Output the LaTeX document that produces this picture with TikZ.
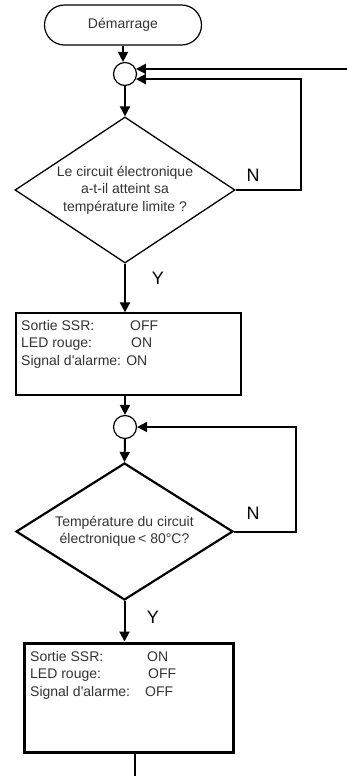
\documentclass[tikz,border=0pt]{standalone}
\usepackage{fontspec}
\setmainfont{Liberation Sans}
\usetikzlibrary{arrows.meta,shapes.geometric}
\tikzset{
  txt/.style={font=\fontsize{14pt}{17.5pt}\selectfont, text=black!80},
  startbox/.style={draw, line width=1.2pt, rounded corners=20pt,
    minimum width=157pt, minimum height=40pt, txt},
  junction/.style={draw, circle, line width=1.2pt, minimum size=23pt, inner sep=0pt},
  test/.style={draw, diamond, inner sep=0pt, align=center, txt},
  actbox/.style={draw, rectangle, inner sep=0pt},
  flow/.style={line width=2pt, -{Triangle[length=10pt,width=10pt]}},
  answer/.style={font=\fontsize{18pt}{18pt}\selectfont}
}
\begin{document}
\begin{tikzpicture}[x=1pt, y=-1pt]
  \useasboundingbox (0,0) rectangle (347,776);
  % start and first loop
  \node[startbox] (start) at (123,25) {Démarrage};
  \node[junction] (c1) at (125,74) {};
  \node[test, line width=1.3pt, aspect=1.45, minimum width=220pt, minimum height=146pt]
    (d1) at (125,190) {Le circuit électronique\\a-t-il atteint sa\\température limite ?};
  \node[actbox, line width=1.3pt, minimum width=225pt, minimum height=82pt] (act1) at (128.5,354) {};
  \node[txt, anchor=north west, align=left, inner sep=3pt] (act1txt) at (18,317)
    {\makebox[109pt][l]{Sortie SSR:}OFF\\\makebox[110pt][l]{LED rouge:}ON\\Signal d\textquotesingle alarme: ON};
  \coordinate (in1) at (347,0);
  \draw[flow] (start.south) -- (start.south |- c1.north);
  \draw[flow] (c1.25 -| in1) -- (c1.25);
  \draw[flow] (c1.south) -- (d1.north);
  \draw[flow] (d1.east) -- ++(65,0) |- (c1.-25);
  \draw[flow] (d1.south) -- (d1.south |- act1.north);
  \node[answer] (n1) at (253,175) {N}; \node[answer] (y1) at (158,278) {Y};
  % second loop
  \node[junction] (c2) at (125,427) {};
  \node[test, line width=2.2pt, aspect=1.58, minimum width=217pt, minimum height=137pt]
    (d2) at (124.5,531.5) {Température du circuit\\électronique\,< 80°C?};
  \node[actbox, line width=3pt, minimum width=209pt, minimum height=109pt] (act2) at (128.5,697.5) {};
  \node[txt, anchor=north west, align=left, inner sep=3pt] (act2txt) at (27,648)
    {\makebox[117pt][l]{Sortie SSR:}ON\\\makebox[118pt][l]{LED rouge:}OFF\\\makebox[115pt][l]{Signal d\textquotesingle alarme:}OFF};
  \coordinate (out) at (135,776);
  \draw[flow] (act1.south -| c2) -- (c2.north);
  \draw[flow] (c2.south) -- (d2.north);
  \draw[flow] (d2.east) -- ++(62,0) |- (c2.east);
  \draw[flow] (d2.south) -- (d2.south |- act2.north);
  \draw[line width=2pt] (act2.south -| out) -- (out);
  \node[answer] (n2) at (253,513) {N}; \node[answer] (y2) at (153,617) {Y};
\end{tikzpicture}
\end{document}
